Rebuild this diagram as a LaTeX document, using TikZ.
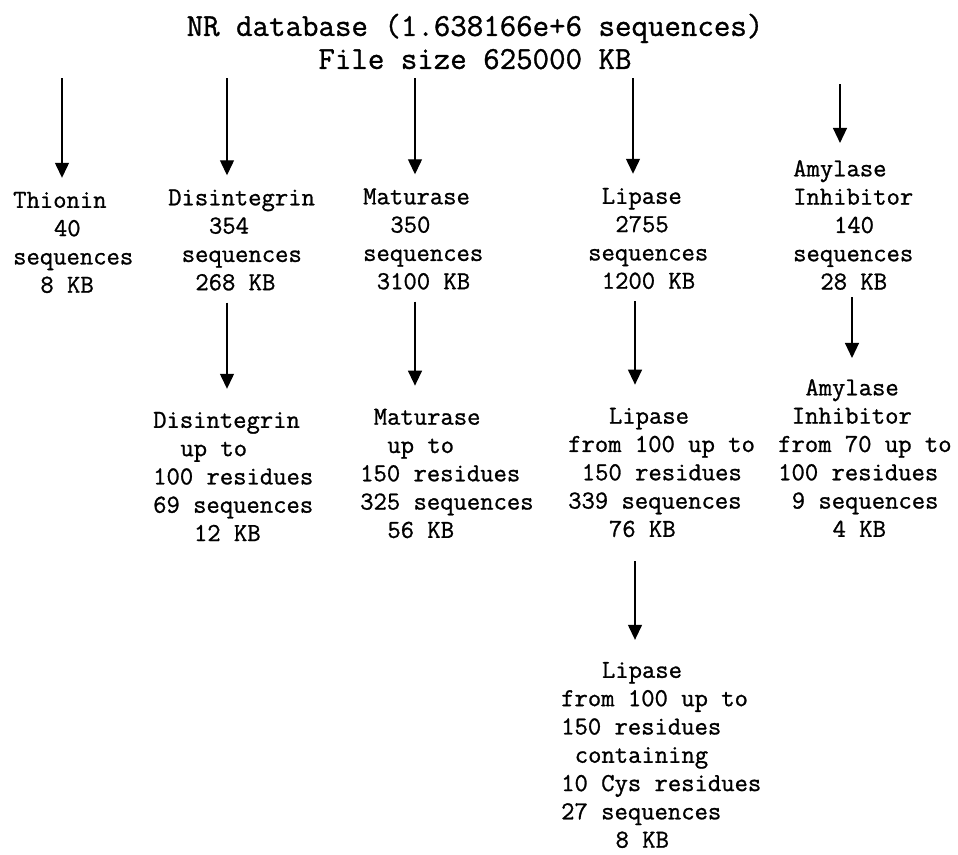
\documentclass[tikz,border=0pt]{standalone}
\usepackage{fontspec}
\newfontfamily\courfont{Latin Modern Mono}[FakeBold=1]
\usetikzlibrary{arrows.meta}
\newcommand{\indsp}[1]{\hspace*{#1\dimexpr0.525em\relax}}

\begin{document}
\begin{tikzpicture}[x=1pt,y=-1pt,
  lbl/.style={font=\courfont\fontsize{25.9}{28.3}\selectfont,align=left,anchor=west,inner sep=0pt},
  head/.style={font=\courfont\fontsize{32}{33}\selectfont,align=center,inner sep=0pt},
  arr/.style={-{Triangle[length=15pt,width=14pt]},line width=1.3pt}]
\useasboundingbox (0,0) rectangle (958,854);
\node[head] (nr) at (475,41.5) {NR database (1.638166e+6 sequences)\\File size 625000 KB};
% first split
\node[lbl] (thio) at (13,242.5) {Thionin\\\indsp{3}40\\sequences\\\indsp{2}8 KB};
\node[lbl] (dis) at (168,240) {Disintegrin\\\indsp{3}354\\\indsp{1}sequences\\\indsp{2}268 KB};
\node[lbl] (mat) at (363,239) {Maturase\\\indsp{2}350\\sequences\\\indsp{1}3100 KB};
\node[lbl] (lip) at (588,238.5) {\indsp{1}Lipase\\\indsp{2}2755\\sequences\\\indsp{1}1200 KB};
\node[lbl] (amy) at (793,225) {Amylase\\Inhibitor\\\indsp{3}140\\sequences\\\indsp{2}28 KB};
% length filter
\node[lbl] (dis2) at (153,476.5) {Disintegrin\\\indsp{2}up to\\100 residues\\69 sequences\\\indsp{3}12 KB};
\node[lbl] (mat2) at (360,473.5) {\indsp{1}Maturase\\\indsp{2}up to\\150 residues\\325 sequences\\\indsp{2}56 KB};
\node[lbl] (lip2) at (568,472.5) {\indsp{3}Lipase\\from 100 up to\\\indsp{1}150 residues\\339 sequences\\\indsp{3}76 KB};
\node[lbl] (amy2) at (778,458) {\indsp{2}Amylase\\\indsp{1}Inhibitor\\from 70 up to\\100 residues\\\indsp{1}9 sequences\\\indsp{4}4 KB};
% cysteine filter
\node[lbl] (lip3) at (561,755) {\indsp{3}Lipase\\from 100 up to\\150 residues\\\indsp{1}containing\\10 Cys residues\\27 sequences\\\indsp{4}8 KB};
% arrow columns
\coordinate (c1) at (62,0);
\coordinate (c2) at (227,0);
\coordinate (c3) at (415,0);
\coordinate (c4) at (633,0);
\coordinate (c5) at (840,0);
\coordinate (c6) at (635,0);
\coordinate (c7) at (852,0);
\draw[arr,shorten <=9pt,shorten >=14pt] (nr.south -| c1) -- (thio.north -| c1);
\draw[arr,shorten <=9pt,shorten >=14pt] (nr.south -| c2) -- (dis.north -| c2);
\draw[arr,shorten <=9pt,shorten >=14pt] (nr.south -| c3) -- (mat.north -| c3);
\draw[arr,shorten <=9pt,shorten >=14pt] (nr.south -| c4) -- (lip.north -| c4);
\draw[arr,shorten <=15pt,shorten >=17pt] (nr.south -| c5) -- (amy.north -| c5);
\draw[arr,shorten <=12pt,shorten >=23pt] (dis.south -| c2) -- (dis2.north -| c2);
\draw[arr,shorten <=12pt,shorten >=23pt] (mat.south -| c3) -- (mat2.north -| c3);
\draw[arr,shorten <=12pt,shorten >=23pt] (lip.south -| c6) -- (lip2.north -| c6);
\draw[arr,shorten <=7pt,shorten >=21pt] (amy.south -| c7) -- (amy2.north -| c7);
\draw[arr,shorten <=24pt,shorten >=22pt] (lip2.south -| c6) -- (lip3.north -| c6);
\end{tikzpicture}
\end{document}
